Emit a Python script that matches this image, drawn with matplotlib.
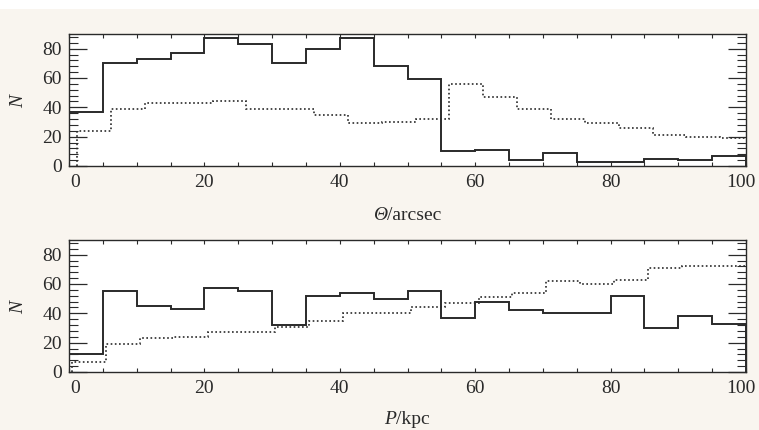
import numpy as np
import matplotlib.pyplot as plt
from matplotlib.ticker import MultipleLocator
from matplotlib.transforms import ScaledTranslation
from matplotlib.offsetbox import TextArea, HPacker, AnchoredOffsetbox

# ---------- data (counts per 5-unit bin) ----------
BIN = 5.0
theta_solid = [37, 70, 73, 77, 87, 83, 70, 80, 87, 68,
               59, 10, 11, 4, 9, 3, 3, 5, 4, 7]
theta_dotted = [24, 39, 43, 43, 44, 39, 39, 35, 29, 30,
                32, 56, 47, 39, 32, 29, 26, 21, 20, 19]
theta_dotted_start = 1.2

p_solid = [12, 55, 45, 43, 57, 55, 32, 52, 54, 50,
           55, 37, 48, 42, 40, 40, 52, 30, 38, 33]
p_dotted = [7, 19, 23, 24, 27, 27, 31, 35, 40, 40,
            44, 47, 51, 54, 62, 60, 63, 71, 72, 72]
p_dotted_start = 0.5

x_ticks = [0, 20, 40, 60, 80, 100]
y_ticks = [0, 20, 40, 60, 80]

BG = '#f9f5ef'
INK = '#2a2a2a'
FS = 14

plt.rcParams['mathtext.fontset'] = 'custom'
plt.rcParams['mathtext.rm'] = 'Liberation Serif'
plt.rcParams['mathtext.it'] = 'Liberation Serif:italic'
plt.rcParams['font.family'] = ['Liberation Serif', 'DejaVu Serif']
plt.rcParams['font.size'] = FS

fig = plt.figure(figsize=(7.59, 4.30), dpi=100, facecolor=BG)
# white strip at the very top
fig.patches.append(plt.Rectangle((0, 1 - 9 / 430), 1, 9 / 430, transform=fig.transFigure,
                                 facecolor='white', edgecolor='none', zorder=-1))

ax1 = fig.add_axes([69 / 759, 1 - 166 / 430, (746 - 69) / 759, (166 - 34) / 430])
ax2 = fig.add_axes([69 / 759, 1 - 372 / 430, (746 - 69) / 759, (372 - 240) / 430])


def xlabel(italic, rest, y_px):
    # italic symbol followed by upright unit text, centred under the axes
    box = HPacker(children=[TextArea(italic, textprops=dict(style='italic', color=INK, size=FS)),
                            TextArea(rest, textprops=dict(color=INK, size=FS))],
                  align='baseline', pad=0, sep=0)
    ab = AnchoredOffsetbox(loc='center', child=box, frameon=False, pad=0, borderpad=0,
                           bbox_to_anchor=(407 / 759, 1 - y_px / 430),
                           bbox_transform=fig.transFigure)
    fig.add_artist(ab)


def shift(label, dx_px):
    label.set_transform(label.get_transform() + ScaledTranslation(dx_px / 100, 0, fig.dpi_scale_trans))


def draw(ax, solid, dotted, dstart):
    n = len(solid)
    edges = np.arange(n + 1) * BIN
    dedges = dstart + np.arange(len(dotted) + 1) * BIN
    ax.stairs(solid, edges, baseline=0, color=INK, lw=1.4)
    ax.stairs(dotted, dedges, baseline=0, color=INK, lw=1.2, linestyle=(0, (1, 1.5)))
    ax.set_xlim(0, 100)
    ax.set_ylim(0, 90)
    ax.set_facecolor('white')
    ax.set_xticks(x_ticks)
    ax.set_yticks(y_ticks)
    ax.xaxis.set_minor_locator(MultipleLocator(5))
    ax.yaxis.set_minor_locator(MultipleLocator(4))
    ax.tick_params(axis='x', which='both', direction='in', top=True, length=3, width=0.8,
                   pad=6, colors=INK)
    ax.tick_params(axis='y', which='major', direction='in', right=True, length=13, width=0.9,
                   pad=5, colors=INK)
    ax.tick_params(axis='y', which='minor', direction='in', right=True, length=6.5, width=0.8,
                   colors=INK)
    for s in ax.spines.values():
        s.set_color(INK)
        s.set_linewidth(1.0)
    ax.set_ylabel(r'$N$', labelpad=11, color=INK)
    # end labels sit a little inside their ticks
    labs = ax.get_xticklabels()
    shift(labs[0], 6)
    shift(labs[-1], -5)


draw(ax1, theta_solid, theta_dotted, theta_dotted_start)
draw(ax2, p_solid, p_dotted, p_dotted_start)
xlabel('Θ', '/arcsec', 215)
xlabel('P', '/kpc', 420)

fig.savefig('out.png', dpi=100, facecolor=BG)
